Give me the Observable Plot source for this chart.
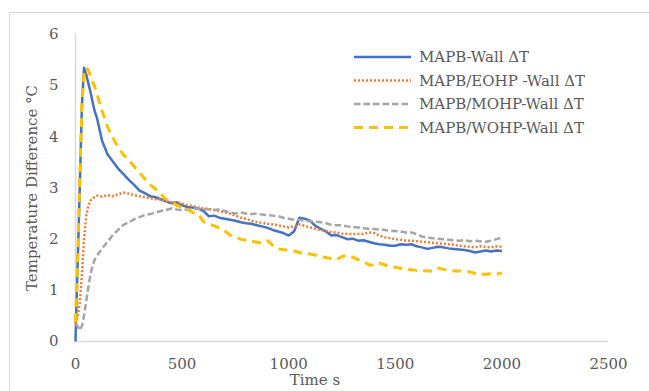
<!DOCTYPE html>
<html><head><meta charset="utf-8">
<script src="https://cdn.jsdelivr.net/npm/d3@7"></script>
<script src="https://cdn.jsdelivr.net/npm/@observablehq/plot@0.6"></script>
<style>
body{margin:0;background:#fff;}
#wrap{position:relative;width:649px;height:391px;overflow:hidden;font-family:"DejaVu Serif",serif;color:#595959;}
#border{position:absolute;left:9px;top:12px;width:700px;height:450px;border:1px solid #d9d9d9;box-sizing:border-box;}
#chart{position:absolute;left:0;top:0;}
#legend{position:absolute;left:350px;top:40px;}
</style></head><body>
<div id="wrap"><div id="border"></div><div id="chart"></div><div id="legend"></div></div>
<script>
const times = [0,10,20,30,40,50,60,70,80,90,
100,125,150,175,200,225,250,275,300,325,
350,375,400,425,450,475,500,525,550,575,
600,625,650,675,700,725,750,775,800,825,
850,875,900,925,950,975,1000,1025,1050,1075,
1100,1125,1150,1175,1200,1225,1250,1275,1300,1325,
1350,1375,1400,1425,1450,1475,1500,1525,1550,1575,
1600,1625,1650,1675,1700,1725,1750,1775,1800,1825,
1850,1875,1900,1925,1950,1975,2000];

const mapbWall = [0,1.5,3.0,4.6,5.35,5.22,5.05,4.88,4.68,4.5,
4.38,3.92,3.66,3.52,3.38,3.27,3.16,3.06,2.95,2.9,
2.84,2.82,2.78,2.74,2.7,2.72,2.66,2.63,2.62,2.6,
2.55,2.45,2.46,2.42,2.4,2.38,2.36,2.33,2.31,2.3,
2.27,2.25,2.22,2.18,2.15,2.12,2.07,2.15,2.42,2.4,
2.36,2.26,2.2,2.15,2.07,2.08,2.04,2.0,2.01,1.97,
1.98,1.95,1.92,1.9,1.89,1.87,1.87,1.9,1.89,1.9,
1.86,1.84,1.81,1.83,1.85,1.84,1.82,1.81,1.8,1.79,
1.77,1.74,1.76,1.78,1.76,1.78,1.77];

const eohpWall = [0.35,0.5,0.75,1.3,2.0,2.45,2.65,2.75,2.8,2.82,
2.85,2.83,2.86,2.84,2.88,2.91,2.89,2.86,2.84,2.82,
2.8,2.78,2.78,2.75,2.72,2.72,2.7,2.66,2.65,2.62,
2.6,2.59,2.57,2.55,2.52,2.5,2.46,2.42,2.4,2.36,
2.33,2.32,2.3,2.29,2.27,2.25,2.23,2.25,2.29,2.26,
2.23,2.2,2.18,2.16,2.14,2.13,2.11,2.1,2.1,2.1,
2.1,2.13,2.12,2.07,2.04,2.02,2.0,1.99,1.97,1.97,
1.96,1.95,1.94,1.93,1.92,1.91,1.9,1.89,1.87,1.86,
1.85,1.84,1.86,1.85,1.84,1.86,1.85];

const mohpWall = [0.35,0.3,0.22,0.3,0.5,0.78,1.05,1.3,1.48,1.6,
1.67,1.82,1.95,2.08,2.18,2.28,2.33,2.39,2.43,2.47,
2.49,2.52,2.55,2.57,2.6,2.58,2.57,2.58,2.59,2.6,
2.59,2.58,2.57,2.58,2.55,2.52,2.5,2.52,2.5,2.49,
2.5,2.48,2.47,2.46,2.45,2.42,2.4,2.38,2.38,2.36,
2.35,2.34,2.33,2.31,2.28,2.27,2.27,2.25,2.24,2.23,
2.22,2.2,2.2,2.19,2.18,2.16,2.16,2.15,2.13,2.13,
2.1,2.05,2.03,2.02,2.01,2.0,1.99,1.98,1.97,1.98,
1.96,1.97,1.96,1.95,1.97,2.0,2.03];

const wohpWall = [0.38,1.6,3.2,4.6,5.25,5.35,5.3,5.2,5.08,4.98,
4.85,4.5,4.2,3.98,3.8,3.65,3.55,3.42,3.3,3.18,
3.06,2.98,2.88,2.78,2.72,2.66,2.62,2.58,2.52,2.5,
2.34,2.3,2.26,2.22,2.16,2.08,2.04,2.0,1.98,1.96,
1.94,1.92,1.97,1.88,1.81,1.8,1.78,1.77,1.74,1.72,
1.71,1.69,1.66,1.64,1.62,1.6,1.66,1.68,1.65,1.6,
1.57,1.5,1.49,1.53,1.5,1.46,1.45,1.43,1.41,1.4,
1.39,1.39,1.38,1.38,1.43,1.41,1.39,1.38,1.38,1.37,
1.36,1.33,1.32,1.31,1.33,1.32,1.34];

const seriesNames = ["MAPB-Wall ΔT","MAPB/EOHP -Wall ΔT","MAPB/MOHP-Wall ΔT","MAPB/WOHP-Wall ΔT"];
const seriesValues = [mapbWall, eohpWall, mohpWall, wohpWall];
const colors = ["#4472C4","#ED7D31","#A5A5A5","#FFC000"];
const dashes = ["none","2 2","6.5 3","9 6"];
const widths = [2.5,2.5,2.5,3];
const xTicks = [0,500,1000,1500,2000,2500];
const yTicks = [0,1,2,3,4,5,6];
const xTitle = "Time s";
const yTitle = "Temperature Difference °C";

const font = '"DejaVu Serif", serif';
const lineMarks = seriesValues.map((vals, i) =>
  Plot.line(times.map((t, j) => ({t, v: vals[j]})), {
    x: "t", y: "v", stroke: colors[i], strokeWidth: widths[i],
    strokeDasharray: dashes[i], strokeLinecap: "butt", strokeLinejoin: "round"
  })
);

const chart = Plot.plot({
  width: 649, height: 391,
  marginLeft: 75, marginRight: 41, marginTop: 34, marginBottom: 50,
  style: {fontFamily: font, fontSize: "15px", color: "#595959", background: "transparent", overflow: "visible"},
  x: {domain: [0, 2500], ticks: xTicks, tickSize: 0, tickPadding: 17, label: null, tickFormat: d => String(d)},
  y: {domain: [0, 6], ticks: yTicks, tickSize: 0, tickPadding: 17, label: null, tickFormat: d => String(d)},
  marks: [
    Plot.ruleY([0], {stroke: "#d9d9d9", strokeWidth: 1.5}),
    Plot.ruleX([0], {stroke: "#d9d9d9", strokeWidth: 1.5}),
    ...lineMarks,
    Plot.text([xTitle], {frameAnchor: "bottom", dy: 43, dx: -27, fill: "#595959", fontSize: 15}),
    Plot.text([yTitle], {frameAnchor: "left", textAnchor: "middle", rotate: -90, dx: -43, fill: "#595959", fontSize: 15})
  ]
});
document.getElementById("chart").appendChild(chart);

// legend
const leg = d3.select("#legend").append("svg").attr("width", 295).attr("height", 105)
  .style("overflow", "visible");
seriesNames.forEach((name, i) => {
  const y = 17 + i * 23.5;
  leg.append("line").attr("x1", 4).attr("x2", 61).attr("y1", y).attr("y2", y)
    .attr("stroke", colors[i]).attr("stroke-width", widths[i])
    .attr("stroke-dasharray", dashes[i]);
  leg.append("text").attr("x", 69).attr("y", y).attr("dy", "0.35em")
    .attr("fill", "#595959").style("font-family", font).style("font-size", "15px")
    .text(name);
});
</script>
</body></html>
